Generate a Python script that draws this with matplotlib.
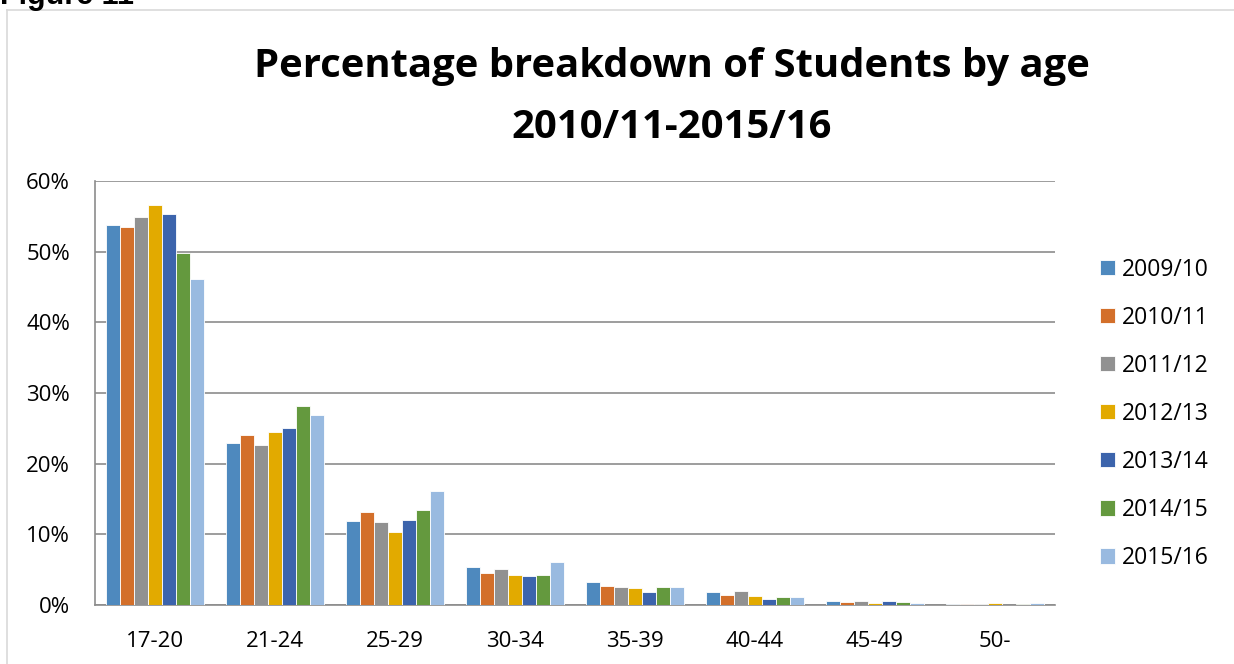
import matplotlib
matplotlib.use("Agg")
import matplotlib.pyplot as plt
import numpy as np
from matplotlib.lines import Line2D

categories = ["17-20", "21-24", "25-29", "30-34", "35-39", "40-44", "45-49", "50-"]
series_names = ["2009/10", "2010/11", "2011/12", "2012/13", "2013/14", "2014/15", "2015/16"]
v2009_10 = [53.8, 22.9, 11.9, 5.4, 3.2, 1.9, 0.6, 0.1]
v2010_11 = [53.5, 24.0, 13.2, 4.5, 2.7, 1.4, 0.4, 0.15]
v2011_12 = [54.9, 22.6, 11.8, 5.1, 2.6, 2.0, 0.5, 0.15]
v2012_13 = [56.6, 24.5, 10.3, 4.2, 2.4, 1.3, 0.3, 0.25]
v2013_14 = [55.3, 25.0, 12.0, 4.1, 1.9, 0.8, 0.6, 0.05]
v2014_15 = [49.8, 28.1, 13.4, 4.3, 2.5, 1.1, 0.4, 0.15]
v2015_16 = [46.2, 26.9, 16.1, 6.1, 2.6, 1.1, 0.3, 0.3]
series_values = [v2009_10, v2010_11, v2011_12, v2012_13, v2013_14, v2014_15, v2015_16]
colors = ["#4E89BE", "#D36F2A", "#919191", "#E2AA00", "#3C64AC", "#64993E", "#99BAE0"]
yticks = [0, 10, 20, 30, 40, 50, 60]
ytick_labels = ["0%", "10%", "20%", "30%", "40%", "50%", "60%"]

W, H = 1234, 664
fig = plt.figure(figsize=(W / 100, H / 100), dpi=100)
fig.patch.set_facecolor("white")

# chart area border
fig.add_artist(Line2D([7 / W, 7 / W], [0, 1 - 10 / H], transform=fig.transFigure,
                      color="#D9D9D9", lw=1.2))
fig.add_artist(Line2D([7 / W, 1], [1 - 10 / H, 1 - 10 / H], transform=fig.transFigure,
                      color="#D9D9D9", lw=1.2))

fig.text(0, 1 - 4 / H, "Figure 11", fontsize=22, fontweight="bold",
         family="Liberation Sans", va="baseline", ha="left")

ax = fig.add_axes([95 / W, 1 - 605 / H, 960 / W, (605 - 181) / H])
n = len(series_names)
bw = 1 / (n + 1.5)
x = np.arange(len(categories))
for i, (name, vals, c) in enumerate(zip(series_names, series_values, colors)):
    ax.bar(x + (i - (n - 1) / 2) * bw, vals, width=bw, color=c, label=name,
           edgecolor="white", linewidth=0.6, zorder=3)

ax.set_xlim(-0.5, len(categories) - 0.5)
ax.set_ylim(0, 60)
ax.set_yticks(yticks)
ax.set_yticklabels(ytick_labels)
ax.set_xticks(x)
ax.set_xticklabels(categories)
ax.tick_params(axis="both", length=0, labelsize=16, colors="black")
ax.tick_params(axis="y", pad=18)
ax.tick_params(axis="x", pad=19)
for lab in ax.get_xticklabels() + ax.get_yticklabels():
    lab.set_family("Open Sans")
ax.grid(axis="y", color="#8C8C8C", lw=1.2, zorder=0)
for s in ["top", "right"]:
    ax.spines[s].set_visible(False)
ax.spines["left"].set_color("#8C8C8C")
ax.spines["left"].set_linewidth(1.2)
ax.spines["bottom"].set_color("#8C8C8C")
ax.spines["bottom"].set_linewidth(1.2)

fig.text(672 / W, 1 - 66 / H, "Percentage breakdown of Students by age",
         fontsize=28.8, fontweight="bold", family="Open Sans", ha="center", va="center")
fig.text(672 / W, 1 - 128 / H, "2010/11-2015/16",
         fontsize=28.8, fontweight="bold", family="Open Sans", ha="center", va="center")

leg = fig.legend(loc="upper left", bbox_to_anchor=(1079 / W, 1 - 237 / H), frameon=False,
                 prop={"family": "Open Sans", "size": 16.5}, handlelength=0.65,
                 handleheight=0.65, handletextpad=0.3, labelspacing=1.05)

fig.savefig("out.png", dpi=100)
